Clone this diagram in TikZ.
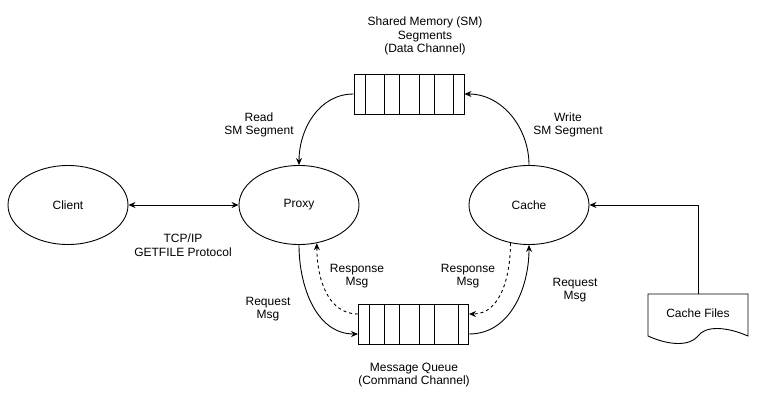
\documentclass[tikz,border=0pt]{standalone}
\usepackage{fontspec}
\setmainfont{Liberation Sans}
\usetikzlibrary{shapes.geometric,arrows.meta}

\begin{document}
\begin{tikzpicture}[x=1pt, y=-1pt, line width=0.9pt, >={Stealth[length=7pt,width=6pt]},
  font=\fontsize{12}{13.7}\selectfont]
\tikzstyle{proc}=[draw, shape=ellipse, minimum width=120, minimum height=79, inner sep=0pt]
\tikzstyle{queue}=[draw, shape=rectangle, minimum width=110, minimum height=40, inner sep=0pt]
\tikzstyle{lbl}=[align=center, inner sep=0pt]
\useasboundingbox (0,0) rectangle (759,409);
\node [proc] (client) at (68,205) {Client};
\node [proc] (proxy) at (299,205) {Proxy};
\node [proc] (cache) at (529,205) {Cache};
\node [queue] (smq) at (409,94) {};
\node [queue] (mq) at (413.5,324) {};
\foreach \x in {365,384,399,419,434,453} % segment cells
  \draw (\x,74) -- (\x,114);
\foreach \x in {369,384,399,419,434,458} % message cells
  \draw (\x,304) -- (\x,344);
% cache files (document)
\draw (648,294) -- (748,294) -- (748,336)
  .. controls (725,326) and (705,326) .. (698,336)
  .. controls (690,346) and (670,346) .. (648,336) -- cycle;
\node [lbl] (files) at (698,313) {Cache Files};
\coordinate (filestop) at (698,294);
\node [lbl] (smlbl) at (425,36) {Shared Memory (SM)\\Segments\\(Data Channel)};
\node [lbl] (mqlbl) at (414,375) {Message Queue\\(Command Channel)};
\node [lbl] (tcp) at (183,245) {TCP/IP\\GETFILE Protocol};
\node [lbl] (read) at (259,125) {Read\\SM Segment};
\node [lbl] (write) at (568,125) {Write\\SM Segment};
\node [lbl] (resp1) at (357,276) {Response\\Msg};
\node [lbl] (resp2) at (468,276) {Response\\Msg};
\node [lbl] (req1) at (268,309) {Request\\Msg};
\node [lbl] (req2) at (575,290) {Request\\Msg};
\draw [<->] (client) -- (proxy);
\draw [->] (smq.west) to[out=180, in=90] (proxy.north);
\draw [->] (cache.north) to[out=90, in=0] (smq.east);
\draw [->] (proxy.south) to[out=-90, in=180] ([yshift=-10]mq.west);
\draw [->, dashed] ([yshift=10]mq.west) to[out=180, in=-90] (proxy.-65);
\draw [->] ([yshift=-10]mq.east) to[out=0, in=-90] (cache.south);
\draw [->, dashed] (cache.-116) to[out=-90, in=0] ([yshift=10]mq.east);
\draw [->] (filestop) |- (cache.east);
\end{tikzpicture}
\end{document}
